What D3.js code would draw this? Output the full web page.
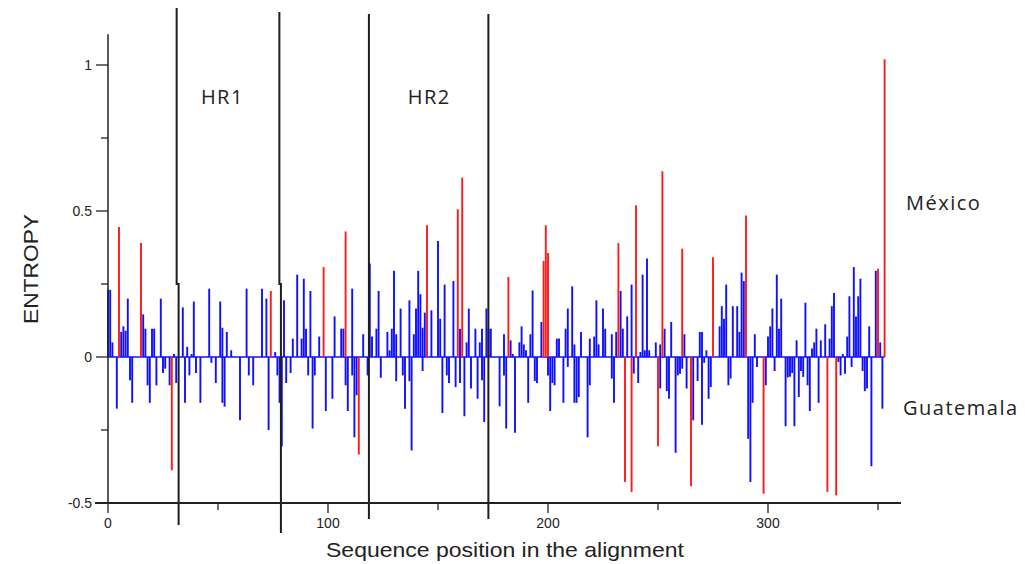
<!DOCTYPE html>
<html>
<head>
<meta charset="utf-8">
<script src="https://cdn.jsdelivr.net/npm/d3@7"></script>
<style>
    body { margin: 0; background: #fff; }
    svg { display: block; }
    text { font-family: "Liberation Sans", Arial, sans-serif; }
    .note { font-family: "Open Sans", Lato, sans-serif; font-size: 20px; letter-spacing: 1.5px; fill: #222; }
</style>
</head>
<body>
<svg width="1025" height="564"></svg>
<script>
// México entropy (positive side), blue spikes
const mexicoPos = [0, 1, 2, 6, 7, 8, 9, 16, 17, 20, 21, 24, 30, 34, 36, 38, 39, 46, 51, 52, 54, 56,
    63, 70, 72, 76, 80, 84, 86, 88, 89, 90, 92, 96, 103, 106, 107, 111, 116,
    119, 120, 122, 123, 127, 128, 129, 130, 131, 133, 137, 139, 140, 141, 142, 143, 144, 147,
    150, 151, 153, 157, 160, 163, 164, 167, 169, 170, 172, 173, 174,
    180, 183, 184, 187, 188, 189, 190, 192, 193, 197, 204, 205, 208, 209, 211, 212, 215,
    219, 221, 222, 223, 225, 226, 229, 231, 233, 234, 236, 238,
    242, 243, 244, 245, 246, 249, 251, 253, 256, 262, 269, 270, 272, 278, 279, 280, 281,
    284, 286, 287, 288, 289, 294, 300, 301, 302, 304, 305, 306, 313, 317,
    320, 321, 322, 324, 326, 328, 329, 330, 334, 336, 337, 339, 340, 341, 342, 346, 349, 351]
const mexicoVal = [0.23, 0.23, 0.05, 0.086, 0.105, 0.09, 0.2, 0.146, 0.097, 0.097, 0.097, 0.2, 0.01, 0.17, 0.035, 0.01, 0.19, 0.234, 0.19, 0.1, 0.086, 0.023,
    0.234, 0.234, 0.2, 0.017, 0.194, 0.063, 0.282, 0.063, 0.268, 0.097, 0.226, 0.07, 0.139, 0.097, 0.097, 0.234, 0.078,
    0.32, 0.07, 0.097, 0.226, 0.086, 0.023, 0.097, 0.295, 0.078, 0.166, 0.194, 0.078, 0.166, 0.295, 0.215, 0.1, 0.152, 0.16,
    0.397, 0.131, 0.248, 0.26, 0.097, 0.05, 0.166, 0.097, 0.05, 0.097, 0.166, 0.097, 0.097,
    0.078, 0.057, 0.01, 0.05, 0.105, 0.043, 0.023, 0.078, 0.228, 0.12, 0.063, 0.063, 0.097, 0.166, 0.242, 0.043, 0.086,
    0.063, 0.07, 0.194, 0.043, 0.166, 0.097, 0.078, 0.086, 0.226, 0.097, 0.139, 0.248,
    0.017, 0.282, 0.023, 0.337, 0.023, 0.05, 0.043, 0.097, 0.12, 0.078, 0.086, 0.086, 0.023, 0.105, 0.174, 0.131, 0.248,
    0.174, 0.174, 0.086, 0.289, 0.26, 0.078, 0.07, 0.105, 0.166, 0.282, 0.097, 0.2, 0.057, 0.186,
    0.029, 0.05, 0.097, 0.057, 0.112, 0.063, 0.174, 0.219, 0.01, 0.07, 0.208, 0.308, 0.139, 0.208, 0.268, 0.105, 0.295, 0.05]

// México, highlighted positions (red)
const mexicoRedPos = [5, 15, 74, 98, 108, 145, 159, 161, 182, 198, 199, 200, 232, 240, 252, 261, 275, 290, 350, 353]
const mexicoRedVal = [0.445, 0.39, 0.226, 0.308, 0.43, 0.451, 0.506, 0.614, 0.274, 0.329, 0.451, 0.356, 0.39, 0.52, 0.636, 0.371, 0.342, 0.485, 0.302, 1.02]

// Guatemala entropy (drawn below zero), blue spikes
const guatemalaPos = [4, 10, 11, 18, 19, 22, 25, 26, 28, 31, 35, 37, 40, 42, 47, 49, 52, 53,
    60, 64, 66, 73, 77, 78, 79, 81, 83, 91, 93, 94, 99, 102, 108, 109, 111, 112, 113, 118,
    124, 131, 134, 135, 137, 138, 143, 152, 154, 155, 158, 160, 162, 165, 168, 170, 171,
    178, 180, 181, 185, 191, 194, 195, 200, 201, 202, 203, 207, 209, 212, 213, 214, 218, 219, 229, 230,
    239, 241, 251, 254, 255, 258, 259, 260, 261, 263, 266, 268, 270, 271, 273, 274, 282, 283,
    291, 292, 293, 295, 299, 303, 308, 309, 310, 311, 312, 314, 315, 316, 318, 319, 323,
    332, 333, 335, 338, 343, 344, 345, 347, 352]
const guatemalaVal = [-0.177, -0.08, -0.157, -0.097, -0.157, -0.097, -0.055, -0.04, -0.097, -0.089, -0.157, -0.063, -0.055, -0.157, -0.02, -0.089, -0.157, -0.17,
    -0.217, -0.063, -0.097, -0.25, -0.063, -0.157, -0.306, -0.089, -0.055, -0.063, -0.245, -0.063, -0.185, -0.143, -0.097, -0.185, -0.063, -0.275, -0.131, -0.063,
    -0.071, -0.083, -0.063, -0.177, -0.083, -0.32, -0.048, -0.192, -0.063, -0.089, -0.103, -0.089, -0.203, -0.108, -0.143, -0.08, -0.223,
    -0.169, -0.063, -0.245, -0.259, -0.157, -0.082, -0.089, -0.063, -0.185, -0.089, -0.097, -0.157, -0.034, -0.157, -0.157, -0.137, -0.275, -0.097, -0.074, -0.157,
    -0.057, -0.089, -0.108, -0.117, -0.143, -0.328, -0.063, -0.057, -0.04, -0.108, -0.217, -0.082, -0.232, -0.02, -0.143, -0.103, -0.097, -0.074,
    -0.28, -0.428, -0.157, -0.034, -0.097, -0.048, -0.237, -0.07, -0.068, -0.055, -0.237, -0.137, -0.048, -0.068, -0.097, -0.185, -0.157,
    -0.017, -0.063, -0.057, -0.034, -0.048, -0.117, -0.108, -0.374, -0.177]

// Guatemala, highlighted positions (red)
const guatemalaRedPos = [29, 114, 235, 238, 250, 265, 298, 327, 331]
const guatemalaRedVal = [-0.388, -0.334, -0.428, -0.462, -0.306, -0.443, -0.468, -0.462, -0.474]

// heptad repeat region borders (upper and lower part of each drawn line)
const borderTop = [31.2, 77.9, 118.6, 172.9]
const borderBottom = [32.1, 78.6, 118.6, 172.9]
const borderLabels = [{ text: "HR1", at: 52 }, { text: "HR2", at: 146 }]

const yTicks = [-0.5, 0, 0.5, 1]
const yMinor = [-0.25, 0.25, 0.75]
const xTicks = [0, 100, 200, 300]
const xMinor = [50, 150, 250, 350]

const svg = d3.select("svg")

const x = d3.scaleLinear()
    .domain([0, 360])
    .range([108, 900])

const y = d3.scaleLinear()
    .domain([-0.5, 1])
    .range([503, 65])

const toPairs = (pos, val) => pos.map((p, i) => ({ p: p, v: val[i] }))

// zero line
svg.append("line")
    .attr("x1", x(0)).attr("x2", x(353))
    .attr("y1", y(0)).attr("y2", y(0))
    .attr("stroke", "#1010ff")
    .attr("stroke-width", 1.6)

function spikes(data, color) {
    svg.append("g")
        .selectAll("line")
        .data(data)
        .enter().append("line")
        .attr("x1", d => x(d.p))
        .attr("x2", d => x(d.p))
        .attr("y1", y(0))
        .attr("y2", d => y(d.v))
        .attr("stroke", color)
        .attr("stroke-width", 1.9)
}

spikes(toPairs(mexicoPos, mexicoVal), "#1010ff")
spikes(toPairs(guatemalaPos, guatemalaVal), "#1010ff")
spikes(toPairs(mexicoRedPos, mexicoRedVal), "#ff1a1a")
spikes(toPairs(guatemalaRedPos, guatemalaRedVal), "#ff1a1a")

// region borders
const jog = y(0.25)
svg.append("g")
    .selectAll("path")
    .data(borderTop)
    .enter().append("path")
    .attr("d", (d, i) => `M${x(d)},${i < 2 ? 8 + i * 4 : 14}V${jog}H${x(borderBottom[i])}V${[525, 533, 519, 519][i]}`)
    .attr("fill", "none")
    .attr("stroke", "#1e1e1e")
    .attr("stroke-width", 2)

svg.append("g")
    .selectAll("text")
    .data(borderLabels)
    .enter().append("text")
    .attr("class", "note")
    .attr("x", d => x(d.at))
    .attr("y", 104)
    .attr("text-anchor", "middle")
    .text(d => d.text)

// y axis
svg.append("line")
    .attr("x1", 108).attr("x2", 108)
    .attr("y1", y(1.105)).attr("y2", y(-0.5))
    .attr("stroke", "#222")
    .attr("stroke-width", 1.5)

svg.append("g")
    .selectAll("line")
    .data(yTicks.concat(yMinor))
    .enter().append("line")
    .attr("x1", d => yTicks.includes(d) ? 96 : 101)
    .attr("x2", 108)
    .attr("y1", d => y(d)).attr("y2", d => y(d))
    .attr("stroke", "#222")
    .attr("stroke-width", 1.3)

svg.append("g")
    .selectAll("text")
    .data(yTicks)
    .enter().append("text")
    .attr("x", 92)
    .attr("y", d => y(d) + 5)
    .attr("text-anchor", "end")
    .attr("font-size", 14)
    .attr("fill", "#222")
    .text(d => String(d))

// x axis
svg.append("line")
    .attr("x1", 95).attr("x2", 901)
    .attr("y1", y(-0.5)).attr("y2", y(-0.5))
    .attr("stroke", "#222")
    .attr("stroke-width", 2)

svg.append("g")
    .selectAll("line")
    .data(xTicks.concat(xMinor))
    .enter().append("line")
    .attr("x1", d => x(d)).attr("x2", d => x(d))
    .attr("y1", y(-0.5))
    .attr("y2", d => xTicks.includes(d) ? 513 : 510)
    .attr("stroke", "#222")
    .attr("stroke-width", 1.3)

svg.append("g")
    .selectAll("text")
    .data(xTicks)
    .enter().append("text")
    .attr("x", d => x(d))
    .attr("y", 528)
    .attr("text-anchor", "middle")
    .attr("font-size", 14)
    .attr("fill", "#222")
    .text(d => d)

// axis titles
svg.append("text")
    .attr("x", 505)
    .attr("y", 557)
    .attr("text-anchor", "middle")
    .attr("font-size", 21)
    .attr("textLength", 358)
    .attr("lengthAdjust", "spacingAndGlyphs")
    .attr("fill", "#222")
    .text("Sequence position in the alignment")

svg.append("text")
    .attr("transform", "translate(38,269) rotate(-90)")
    .attr("text-anchor", "middle")
    .attr("font-size", 20)
    .attr("textLength", 110)
    .attr("lengthAdjust", "spacingAndGlyphs")
    .attr("fill", "#222")
    .text("ENTROPY")

// country labels
svg.append("text").attr("class", "note")
    .attr("x", 906).attr("y", 210)
    .text("México")

svg.append("text").attr("class", "note")
    .attr("x", 903).attr("y", 415)
    .text("Guatemala")
</script>
</body>
</html>
